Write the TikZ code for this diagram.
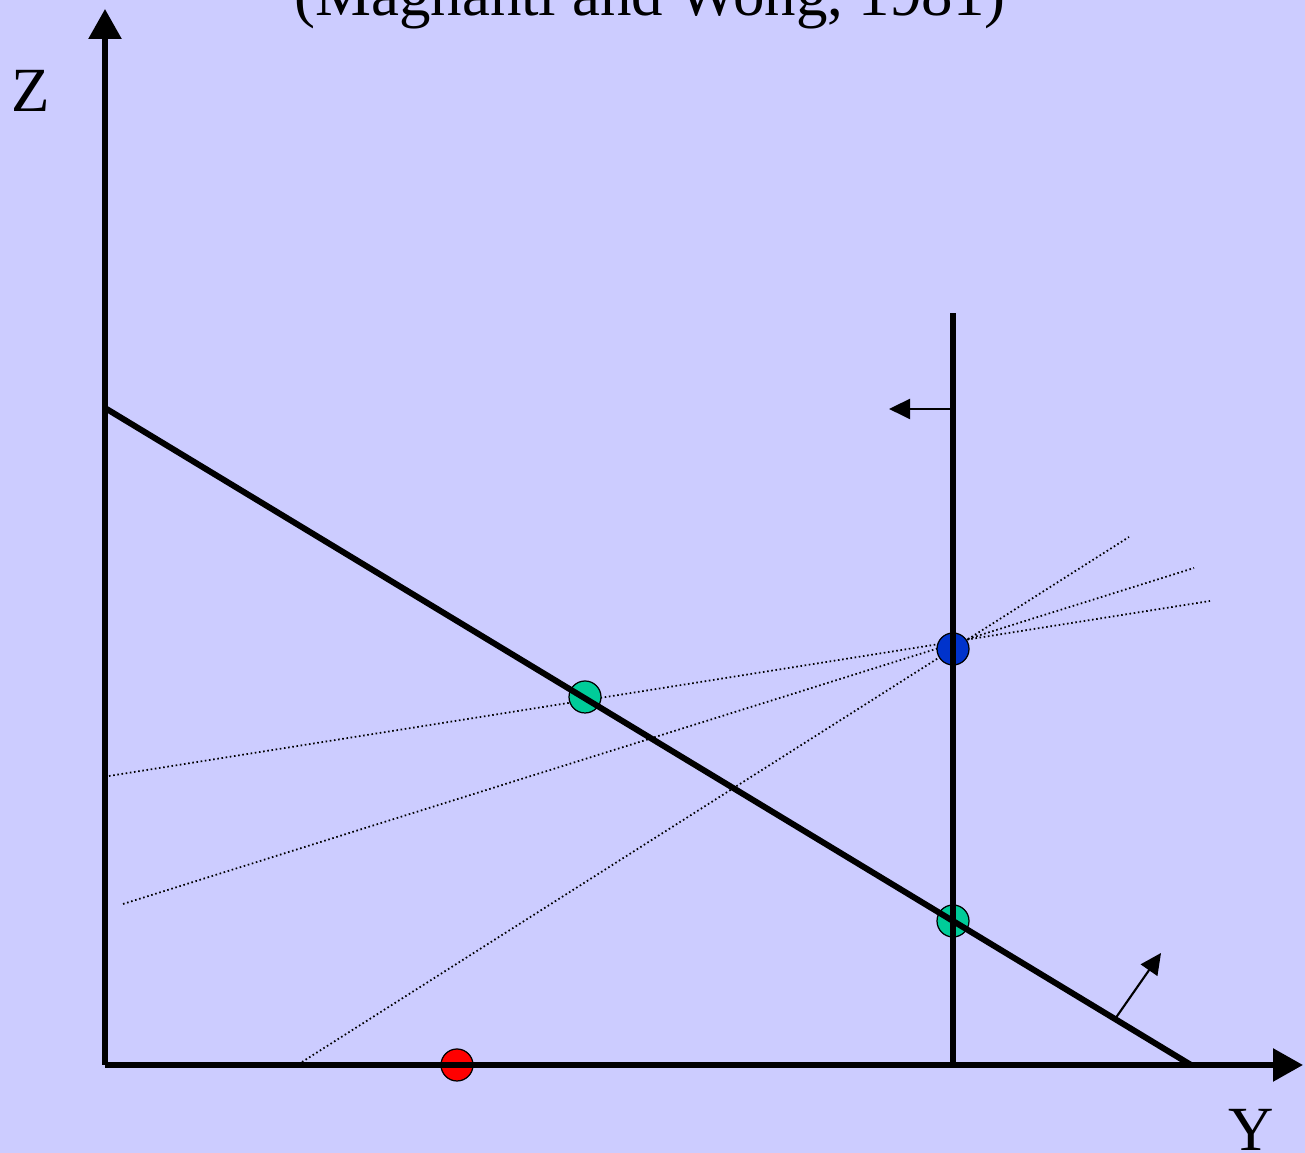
\documentclass[tikz,border=0pt]{standalone}
\usepackage{fontspec}
\setmainfont{Liberation Serif}
\usepackage{tikz}
\usetikzlibrary{arrows.meta, positioning, calc}
\definecolor{lavender}{RGB}{204,204,255}
\definecolor{dotblue}{RGB}{0,51,204}
\definecolor{dotgreen}{RGB}{0,204,153}
\definecolor{dotred}{RGB}{255,0,0}

\begin{document}
\begin{tikzpicture}[
  font=\fontsize{17.9}{21}\selectfont,
  axis/.style={line width=1.6pt, -{Triangle[length=0.3cm, width=0.32cm]}},
  cut/.style={line width=1.7pt},
  ray/.style={line width=0.5pt, dash pattern=on 0.45pt off 0.75pt},
  dir/.style={line width=0.6pt, -{Triangle[length=0.21cm, width=0.2cm]}},
  pt/.style={circle, draw=black, line width=0.35pt, minimum size=0.32cm, inner sep=0pt},
]

% page and background
\useasboundingbox (-1.05,-0.88) rectangle (12.00,10.65);
\fill[lavender] (-1.05,-0.88) rectangle (12.00,10.65);

% named points
\coordinate (o) at (0,0);
\coordinate (ztip) at (0,10.56);
\coordinate (ytip) at (11.98,0);
\coordinate (ltop) at (0,6.57);
\coordinate (lbot) at (10.86,0);
\coordinate (vbot) at (8.48,0);
\coordinate (vtop) at (8.48,7.52);
\coordinate (vmid) at (8.48,6.56);
\coordinate (vleft) at (7.84,6.56);
\coordinate (nfoot) at (10.10,0.46);
\coordinate (nhead) at (10.56,1.12);

% dotted rays through the blue point
\draw[ray] (1.97,0.03) -- (10.24,5.28);
\draw[ray] (0.18,1.61) -- (10.89,4.97);
\draw[ray] (0.04,2.89) -- (11.05,4.64);

% points
\node[pt, fill=dotblue] (pblue) at (8.48,4.16) {};
\node[pt, fill=dotgreen] (pgreena) at (4.80,3.68) {};
\node[pt, fill=dotgreen] (pgreenb) at (8.48,1.44) {};
\node[pt, fill=dotred] (pred) at (3.52,0) {};

% axes and cuts
\draw[axis] (o) -- (ztip);
\draw[axis] (o) -- (ytip);
\draw[cut] (ltop) -- (lbot);
\draw[cut] (vbot) -- (vtop);
\draw[dir] (vmid) -- (vleft);
\draw[dir] (nfoot) -- (nhead);

% labels
\node[anchor=base] (title) at (5.45,10.49) {(Magnanti and Wong, 1981)};
\node[anchor=base] (zlab) at (-0.74,9.53) {Z};
\node[anchor=base] (ylab) at (11.46,-0.86) {Y};

\end{tikzpicture}
\end{document}
